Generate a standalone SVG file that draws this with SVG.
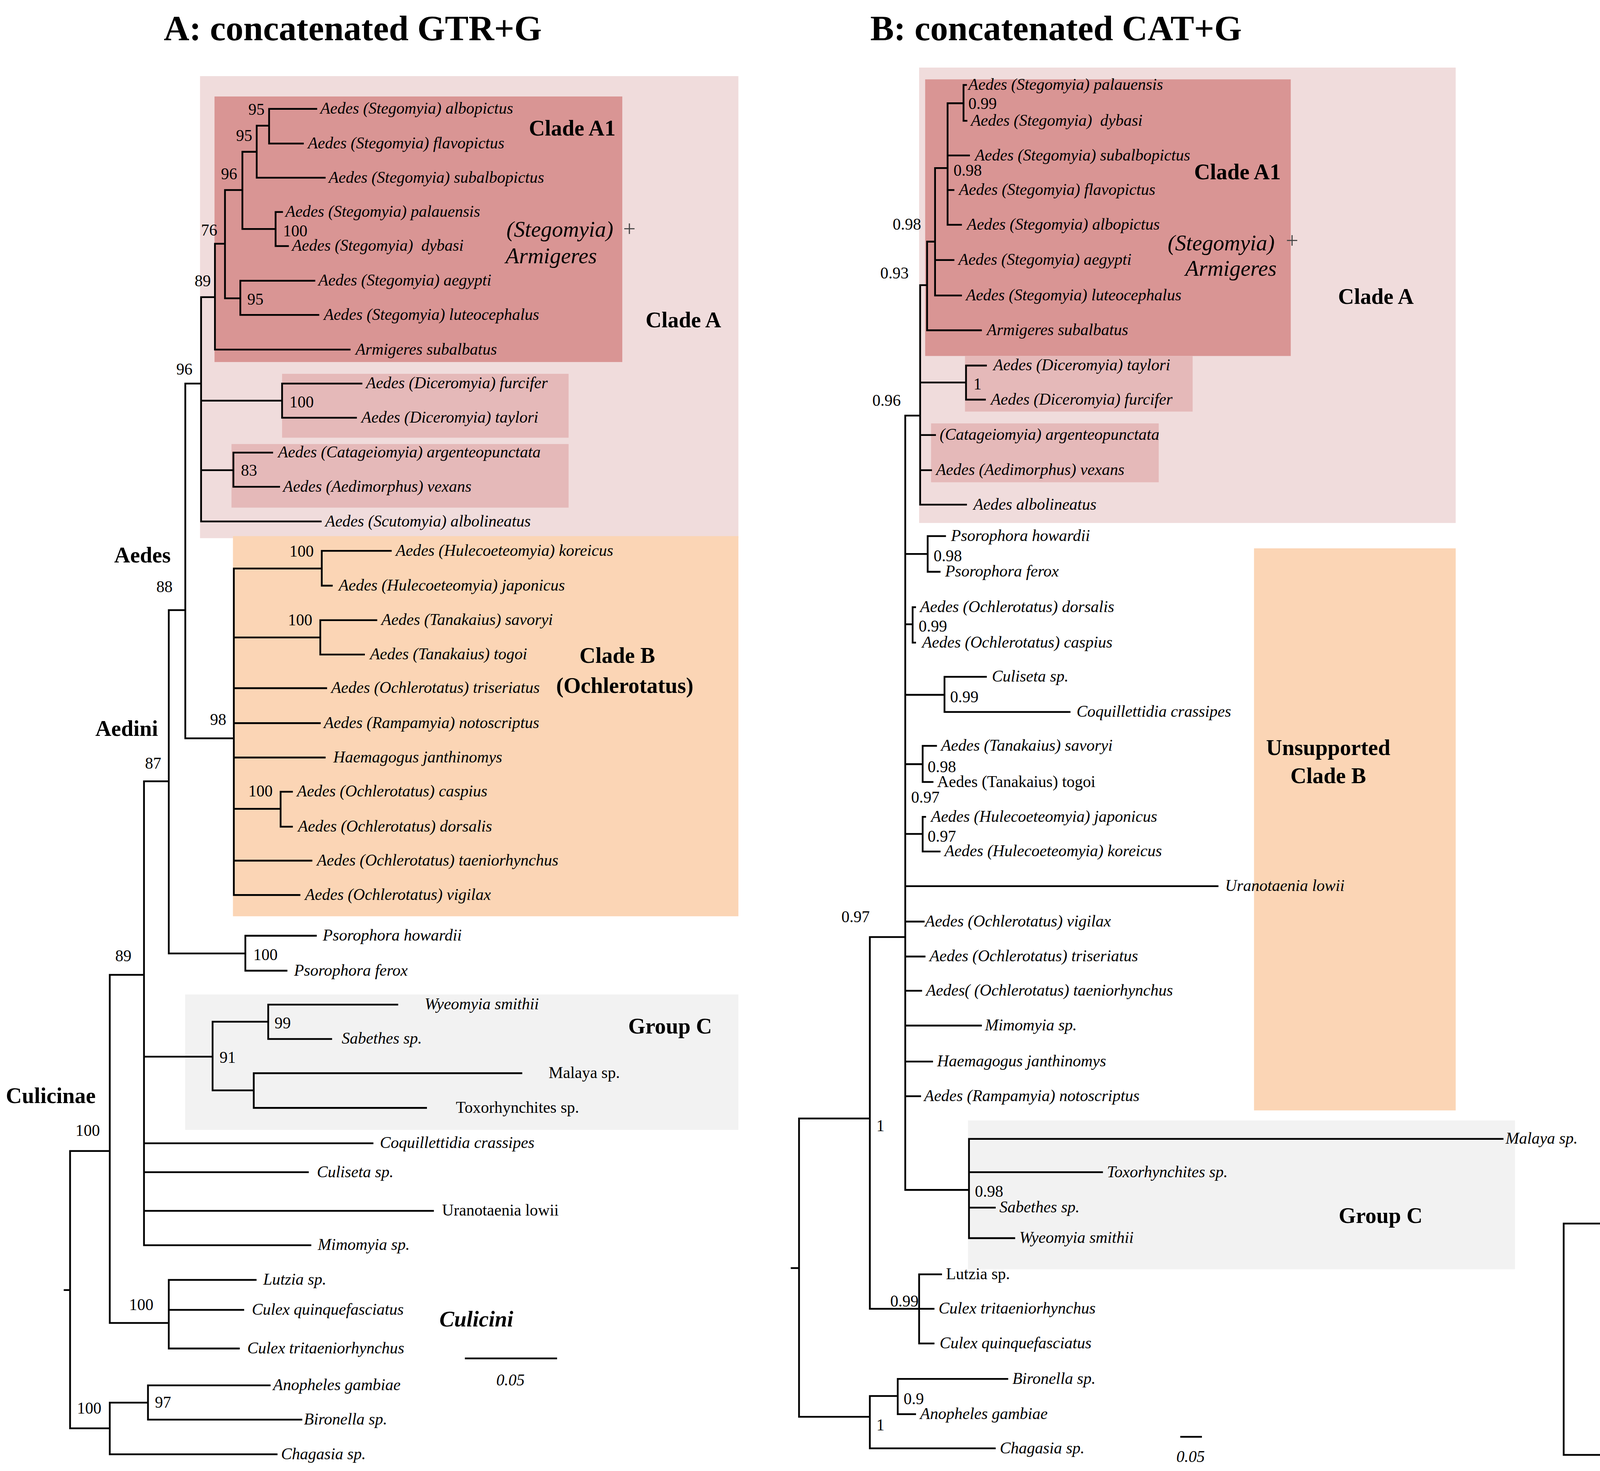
<svg xmlns="http://www.w3.org/2000/svg" width="5922" height="3766" viewBox="0 0 5922 3766">
<style>
text{font-family:'Liberation Serif','Times New Roman',serif;fill:#000}
.l{font-size:11px;font-style:italic}
.r{font-size:11px}
.s{font-size:11px}
.sc{font-size:10.5px}
.h{font-size:15px;font-weight:bold}
.ti{font-size:24px;font-weight:bold}
.ib{font-size:15px;font-style:italic}
.bi{font-size:15px;font-weight:bold;font-style:italic}
.pl{font-size:15px;fill:#444}
.br{stroke:#000;stroke-width:1.2;fill:none;stroke-linecap:square}
.ca{fill:#f0dcdc}.a1{fill:#d99594}.sb{fill:#e5b9b9}.cb{fill:#fbd5b5}.b1{fill:#f8c08f}.gc{fill:#f2f2f2}
</style>
<rect width="5922" height="3766" fill="#fff"/>
<g transform="scale(3.7768)">
<!-- ================= PANEL A ================= -->
<g id="panelA-boxes">
<rect class="ca" x="135.6" y="51.6" width="364.9" height="313.2"/>
<rect class="a1" x="145.4" y="65.4" width="276.4" height="180"/>
<rect class="sb" x="191.2" y="253.4" width="194.2" height="43.3"/>
<rect class="sb" x="156.9" y="301" width="228.5" height="43.1"/>
<rect class="cb" x="157.9" y="363.4" width="342.6" height="257.7"/>
<rect class="gc" x="125.5" y="674.1" width="375" height="91.8"/>
</g>
<g id="panelA-connectors">
<path class="br" d="M43.8 874.5H47.5M47.5 780.2V968.2M47.5 780.2H74.4M47.5 968.2H74.4
M74.4 660.8V896.8M74.4 660.8H97.6M74.4 896.8H114.4
M114.4 867.6V914.1M114.4 867.6H173.3M114.4 887.9H164.9M114.4 914.1H161.9
M74.4 950.8V985.8M74.4 950.8H100.3M100.3 939.1V962.3M100.3 939.1H182.8M100.3 962.3H204.3M74.4 985.8H187.5
M97.6 529.6V844.1M97.6 529.6H114.4M97.6 716.3H144.1M97.6 775H252.5M97.6 794.6H208.7M97.6 820.8H293.5M97.6 844.1H210.4
M144.1 692.6V739.1M144.1 692.6H181.8M181.8 681V704.3M181.8 681H269.3M181.8 704.3H224.5
M144.1 739.1H172M172 727.5V751M172 727.5H353.4M172 751H288.8
M114.4 413.6V646.3M114.4 413.6H125.6M114.4 646.3H166.3M166.3 634.3V658M166.3 634.3H214.1M166.3 658H194.2
M125.6 260V500.5M125.6 260H136.3M125.6 500.5H158.5
M158.5 385.4V606.7M158.5 385.4H218.1M218.1 373.4V397M218.1 373.4H264.9M218.1 397H224.9
M158.5 432.1H217.1M217.1 420.4V443.7M217.1 420.4H255.1M217.1 443.7H246.7
M158.5 466.5H221.1M158.5 490.2H216.8M158.5 513.5H220.1
M158.5 548.3H190.2M190.2 536.7V560.4M190.2 536.7H197.9M190.2 560.4H197.9
M158.5 583.4H211.1M158.5 606.7H203
M136.3 201.4V353.5M136.3 201.4H145.7
M136.3 271.6H191.2M191.2 260V283.2M191.2 260H245M191.2 283.2H241.3
M136.3 318.7H158.2M158.2 306.8V330M158.2 306.8H184.5M158.2 330H189.2
M136.3 353.5H217.4
M145.7 165.2V237M145.7 165.2H152.5M145.7 237H237
M152.5 128.8V202.2M152.5 128.8H164.3M152.5 202.2H162.9
M162.9 190.3V213.5M162.9 190.3H213.1M162.9 213.5H215.8
M164.3 102.9V155.2M164.3 102.9H174M164.3 155.2H186.8
M186.8 143.7V166.8M186.8 143.7H191.2M186.8 166.8H195.2
M174 85.2V120.5M174 85.2H182.4M174 120.5H220.1
M182.4 73.8V97.3M182.4 73.8H214.4M182.4 97.3H205.3
M315.7 920.8H377"/>
</g>
<g id="panelA-labels">
<text class="ti" x="111" y="27.3">A: concatenated GTR+G</text>
<g id="A-albopictus"><text class="l" x="217.1" y="77.1">Aedes (Stegomyia) albopictus</text></g>
<g id="A-flavopictus"><text class="l" x="208.7" y="100.6">Aedes (Stegomyia) flavopictus</text></g>
<g id="A-subalbopictus"><text class="l" x="222.8" y="123.8">Aedes (Stegomyia) subalbopictus</text></g>
<g id="A-palauensis"><text class="l" x="193.5" y="147">Aedes (Stegomyia) palauensis</text></g>
<g id="A-dybasi"><text class="l" x="197.9" y="170.1" xml:space="preserve">Aedes (Stegomyia)  dybasi</text></g>
<g id="A-aegypti"><text class="l" x="215.8" y="193.6">Aedes (Stegomyia) aegypti</text></g>
<g id="A-luteocephalus"><text class="l" x="219.5" y="216.8">Aedes (Stegomyia) luteocephalus</text></g>
<g id="A-armigeres"><text class="l" x="241" y="240.3">Armigeres subalbatus</text></g>
<g id="A-furcifer"><text class="l" x="248.1" y="263.3">Aedes (Diceromyia) furcifer</text></g>
<g id="A-taylori"><text class="l" x="245" y="286.5">Aedes (Diceromyia) taylori</text></g>
<g id="A-argenteopunctata"><text class="l" x="188.5" y="310.1">Aedes (Catageiomyia) argenteopunctata</text></g>
<g id="A-vexans"><text class="l" x="191.9" y="333.3">Aedes (Aedimorphus) vexans</text></g>
<g id="A-albolineatus"><text class="l" x="220.5" y="356.8">Aedes (Scutomyia) albolineatus</text></g>
<g id="A-koreicus"><text class="l" x="268.3" y="376.7">Aedes (Hulecoeteomyia) koreicus</text></g>
<g id="A-japonicus"><text class="l" x="229.6" y="400.3">Aedes (Hulecoeteomyia) japonicus</text></g>
<g id="A-savoryi"><text class="l" x="258.5" y="423.7">Aedes (Tanakaius) savoryi</text></g>
<g id="A-togoi"><text class="l" x="250.8" y="447">Aedes (Tanakaius) togoi</text></g>
<g id="A-triseriatus"><text class="l" x="224.5" y="469.8">Aedes (Ochlerotatus) triseriatus</text></g>
<g id="A-notoscriptus"><text class="l" x="219.5" y="493.5">Aedes (Rampamyia) notoscriptus</text></g>
<g id="A-haemagogus"><text class="l" x="225.9" y="516.8">Haemagogus janthinomys</text></g>
<g id="A-caspius"><text class="l" x="201.3" y="540">Aedes (Ochlerotatus) caspius</text></g>
<g id="A-dorsalis"><text class="l" x="202" y="563.7">Aedes (Ochlerotatus) dorsalis</text></g>
<g id="A-taeniorhynchus"><text class="l" x="214.8" y="586.7">Aedes (Ochlerotatus) taeniorhynchus</text></g>
<g id="A-vigilax"><text class="l" x="206.7" y="610">Aedes (Ochlerotatus) vigilax</text></g>
<g id="A-howardii"><text class="l" x="218.8" y="637.6">Psorophora howardii</text></g>
<g id="A-ferox"><text class="l" x="199.3" y="661.3">Psorophora ferox</text></g>
<g id="A-wyeomyia"><text class="l" x="287.8" y="684.3">Wyeomyia smithii</text></g>
<g id="A-sabethes"><text class="l" x="231.6" y="707.6">Sabethes sp.</text></g>
<g id="A-malaya"><text class="r" x="371.9" y="730.8">Malaya sp.</text></g>
<g id="A-toxorhynchites"><text class="r" x="309" y="754.3">Toxorhynchites sp.</text></g>
<g id="A-coquillettidia"><text class="l" x="257.5" y="778.3">Coquillettidia crassipes</text></g>
<g id="A-culiseta"><text class="l" x="214.8" y="797.9">Culiseta sp.</text></g>
<g id="A-uranotaenia"><text class="r" x="299.6" y="824.1">Uranotaenia lowii</text></g>
<g id="A-mimomyia"><text class="l" x="215.4" y="847.4">Mimomyia sp.</text></g>
<g id="A-lutzia"><text class="l" x="178.4" y="870.9">Lutzia sp.</text></g>
<g id="A-culexq"><text class="l" x="170.7" y="891.2">Culex quinquefasciatus</text></g>
<g id="A-culext"><text class="l" x="167.6" y="917.4">Culex tritaeniorhynchus</text></g>
<g id="A-anopheles"><text class="l" x="185.1" y="942.4">Anopheles gambiae</text></g>
<g id="A-bironella"><text class="l" x="206" y="965.6">Bironella sp.</text></g>
<g id="A-chagasia"><text class="l" x="190.5" y="989.1">Chagasia sp.</text></g>
<g id="A-groups">
<text class="h" x="358.5" y="91.9">Clade A1</text>
<text class="ib" x="343.3" y="160.5">(Stegomyia)</text>
<text class="pl" x="422.4" y="160.2">+</text>
<text class="ib" x="342.7" y="178.4">Armigeres</text>
<text class="h" x="437.6" y="221.8">Clade A</text>
<text class="h" x="77.4" y="381.3">Aedes</text>
<text class="h" x="392.8" y="449.2">Clade B</text>
<text class="h" x="377" y="469.8">(Ochlerotatus)</text>
<text class="h" x="64.6" y="498.8">Aedini</text>
<text class="h" x="425.8" y="700.5">Group C</text>
<text class="h" x="4" y="747.7">Culicinae</text>
<text class="bi" x="297.9" y="899.2">Culicini</text>
<text class="l" x="346" y="939.1" text-anchor="middle">0.05</text>
</g>
<g id="A-support">
<text class="s" x="168.3" y="77.8">95</text>
<text class="s" x="160" y="95.7">95</text>
<text class="s" x="149.8" y="121.6">96</text>
<text class="s" x="191.9" y="160.2">100</text>
<text class="s" x="136.3" y="159.7">76</text>
<text class="s" x="167.6" y="206.5">95</text>
<text class="s" x="131.9" y="194">89</text>
<text class="s" x="119.5" y="254">96</text>
<text class="s" x="196.2" y="276.2">100</text>
<text class="s" x="163.3" y="322.5">83</text>
<text class="s" x="196.2" y="377.2">100</text>
<text class="s" x="195.2" y="423.8">100</text>
<text class="s" x="142.4" y="491.4">98</text>
<text class="s" x="106" y="401.5">88</text>
<text class="s" x="98.3" y="521">87</text>
<text class="s" x="168.3" y="540">100</text>
<text class="s" x="171.7" y="650.9">100</text>
<text class="s" x="78.1" y="651.7">89</text>
<text class="s" x="186.1" y="697.2">99</text>
<text class="s" x="148.8" y="720.4">91</text>
<text class="s" x="51.2" y="769.9">100</text>
<text class="s" x="87.5" y="888">100</text>
<text class="s" x="105" y="954.3">97</text>
<text class="s" x="52.2" y="958.3">100</text>
</g>
</g>
<!-- ================= PANEL B ================= -->
<g id="panelB-boxes">
<rect class="ca" x="623" y="45.8" width="363.7" height="308.7"/>
<rect class="a1" x="627.1" y="53.8" width="247.8" height="187.5"/>
<rect class="sb" x="654.1" y="241.3" width="154.3" height="37.7"/>
<rect class="sb" x="631.1" y="287" width="154.3" height="39.9"/>
<rect class="cb" x="850" y="371.7" width="136.7" height="381"/>
<rect class="gc" x="656.1" y="759.5" width="370.8" height="100.9"/>
</g>
<g id="panelB-connectors">
<path class="br" d="M536.6 859.6H541.6M541.6 758.2V960.4M541.6 758.2H589.6M541.6 960.4H589.6
M589.6 635.2V887.2M589.6 635.2H613.6M589.6 887.2H623
M623 863.8V910.7M623 863.8H637.9M623 887.2H632.8M623 910.7H632.8
M589.6 946.3V981.8M589.6 946.3H608.5M608.5 934.7V958.6M608.5 934.7H682.8M608.5 958.6H620.3M589.6 981.8H674.3
M613.6 281.7V806.6M613.6 281.7H623.7
M613.6 375.5H628.8M628.8 363.4V387.6M628.8 363.4H640.6M628.8 387.6H636.9
M613.6 423.2H618.6M618.6 411.6V435.6M618.6 411.6H620.3M618.6 435.6H620.3
M613.6 471H640.2M640.2 458.8V482.6M640.2 458.8H668.3M640.2 482.6H725
M613.6 518H625.4M625.4 505.6V530.1M625.4 505.6H634.5M625.4 530.1H632.1
M613.6 565.3H625.4M625.4 553.7V577.2M625.4 553.7H627.1M625.4 577.2H636.9
M613.6 600.7H825.3M613.6 624.7H626.1M613.6 648.4H626.7M613.6 671.6H624.4M613.6 695.2H664.9M613.6 719.6H631.8M613.6 743.1H623.7
M613.6 806.6H656.8M656.8 772V839.3M656.8 772H1018.5M656.8 794.6H747M656.8 818.6H674.3M656.8 839.3H687.5
M623.7 193.3V342.1M623.7 193.3H628.4
M623.7 259.3H654.8M654.8 247.8V270.9M654.8 247.8H668.3M654.8 270.9H667.6
M623.7 294.9H633.8M623.7 318.7H631.1M623.7 342.1H654.8
M628.4 163.8V223.9M628.4 163.8H633.8M628.4 223.9H664.9
M633.8 113.9V200.3M633.8 113.9H642.3M633.8 176.3H646.3M633.8 200.3H651.4
M642.3 70V152.4M642.3 70H653.1M642.3 105.4H656.8M642.3 128.8H646.3M642.3 152.4H651.4
M653.1 57.6V81.9M653.1 57.6H654.8M653.1 81.9H655.1
M800.6 974H814.1"/>
</g>
<g id="panelB-labels">
<text class="ti" x="589.9" y="27.3">B: concatenated CAT+G</text>
<g id="B-palauensis"><text class="l" x="656.4" y="60.9">Aedes (Stegomyia) palauensis</text></g>
<g id="B-dybasi"><text class="l" x="658.1" y="85.2" xml:space="preserve">Aedes (Stegomyia)  dybasi</text></g>
<g id="B-subalbopictus"><text class="l" x="660.8" y="108.7">Aedes (Stegomyia) subalbopictus</text></g>
<g id="B-flavopictus"><text class="l" x="650" y="132.1">Aedes (Stegomyia) flavopictus</text></g>
<g id="B-albopictus"><text class="l" x="655.4" y="155.7">Aedes (Stegomyia) albopictus</text></g>
<g id="B-aegypti"><text class="l" x="649.7" y="179.6">Aedes (Stegomyia) aegypti</text></g>
<g id="B-luteocephalus"><text class="l" x="654.8" y="203.6">Aedes (Stegomyia) luteocephalus</text></g>
<g id="B-armigeres"><text class="l" x="668.9" y="227.2">Armigeres subalbatus</text></g>
<g id="B-taylori"><text class="l" x="673.3" y="251.1">Aedes (Diceromyia) taylori</text></g>
<g id="B-furcifer"><text class="l" x="671.6" y="274.2">Aedes (Diceromyia) furcifer</text></g>
<g id="B-argenteopunctata"><text class="l" x="636.9" y="298.2">(Catageiomyia) argenteopunctata</text></g>
<g id="B-vexans"><text class="l" x="634.5" y="322">Aedes (Aedimorphus) vexans</text></g>
<g id="B-albolineatus"><text class="l" x="659.8" y="345.4">Aedes albolineatus</text></g>
<g id="B-howardii"><text class="l" x="644.6" y="366.7">Psorophora howardii</text></g>
<g id="B-ferox"><text class="l" x="640.6" y="390.9">Psorophora ferox</text></g>
<g id="B-dorsalis"><text class="l" x="623.7" y="414.9">Aedes (Ochlerotatus) dorsalis</text></g>
<g id="B-caspius"><text class="l" x="625" y="438.9">Aedes (Ochlerotatus) caspius</text></g>
<g id="B-culiseta"><text class="l" x="672.3" y="462.1">Culiseta sp.</text></g>
<g id="B-coquillettidia"><text class="l" x="729.7" y="485.9">Coquillettidia crassipes</text></g>
<g id="B-savoryi"><text class="l" x="637.9" y="508.9">Aedes (Tanakaius) savoryi</text></g>
<g id="B-togoi"><text class="r" x="635.2" y="533.4">Aedes (Tanakaius) togoi</text></g>
<g id="B-japonicus"><text class="l" x="631.1" y="557">Aedes (Hulecoeteomyia) japonicus</text></g>
<g id="B-koreicus"><text class="l" x="640.2" y="580.5">Aedes (Hulecoeteomyia) koreicus</text></g>
<g id="B-uranotaenia"><text class="l" x="830.4" y="604">Uranotaenia lowii</text></g>
<g id="B-vigilax"><text class="l" x="627" y="628">Aedes (Ochlerotatus) vigilax</text></g>
<g id="B-triseriatus"><text class="l" x="630.1" y="651.7">Aedes (Ochlerotatus) triseriatus</text></g>
<g id="B-taeniorhynchus"><text class="l" x="627.7" y="674.9">Aedes( (Ochlerotatus) taeniorhynchus</text></g>
<g id="B-mimomyia"><text class="l" x="667.6" y="698.5">Mimomyia sp.</text></g>
<g id="B-haemagogus"><text class="l" x="635.2" y="722.9">Haemagogus janthinomys</text></g>
<g id="B-notoscriptus"><text class="l" x="626.4" y="746.4">Aedes (Rampamyia) notoscriptus</text></g>
<g id="B-malaya"><text class="l" x="1020.5" y="775.3">Malaya sp.</text></g>
<g id="B-toxorhynchites"><text class="l" x="750.3" y="797.9">Toxorhynchites sp.</text></g>
<g id="B-sabethes"><text class="l" x="677.4" y="821.9">Sabethes sp.</text></g>
<g id="B-wyeomyia"><text class="l" x="690.9" y="842.6">Wyeomyia smithii</text></g>
<g id="B-lutzia"><text class="r" x="641.2" y="867.1">Lutzia sp.</text></g>
<g id="B-culext"><text class="l" x="636.2" y="890.5">Culex tritaeniorhynchus</text></g>
<g id="B-culexq"><text class="l" x="636.9" y="914">Culex quinquefasciatus</text></g>
<g id="B-bironella"><text class="l" x="686.2" y="938">Bironella sp.</text></g>
<g id="B-anopheles"><text class="l" x="623.7" y="961.9">Anopheles gambiae</text></g>
<g id="B-chagasia"><text class="l" x="677.7" y="985.1">Chagasia sp.</text></g>
<g id="B-groups">
<text class="h" x="809.4" y="121.6">Clade A1</text>
<text class="ib" x="791.5" y="169.6">(Stegomyia)</text>
<text class="pl" x="871.6" y="168.1">+</text>
<text class="ib" x="803.4" y="187">Armigeres</text>
<text class="h" x="907" y="206">Clade A</text>
<text class="h" x="900.3" y="511.9" text-anchor="middle">Unsupported</text>
<text class="h" x="900.3" y="530.9" text-anchor="middle">Clade B</text>
<text class="h" x="907.4" y="829">Group C</text>
<text class="l" x="807" y="991" text-anchor="middle">0.05</text>
</g>
<g id="B-support">
<text class="s" x="656.4" y="74">0.99</text>
<text class="s" x="646.3" y="119.2">0.98</text>
<text class="s" x="605.1" y="155.6">0.98</text>
<text class="s" x="596.7" y="188.7">0.93</text>
<text class="s" x="659.8" y="264.1">1</text>
<text class="s" x="591.3" y="275">0.96</text>
<text class="s" x="632.8" y="380.5">0.98</text>
<text class="s" x="622.7" y="428.1">0.99</text>
<text class="s" x="644" y="476">0.99</text>
<text class="s" x="628.8" y="523.5">0.98</text>
<text class="s" x="617.6" y="544.1">0.97</text>
<text class="s" x="628.8" y="570.6">0.97</text>
<text class="s" x="570.3" y="625.2">0.97</text>
<text class="s" x="594" y="766.7">1</text>
<text class="s" x="660.8" y="811.4">0.98</text>
<text class="s" x="603.4" y="885.6">0.99</text>
<text class="s" x="612.5" y="951.9">0.9</text>
<text class="s" x="594" y="969.5">1</text>
</g>
</g>
<!-- ================= PANEL C ================= -->
<g id="panelC-boxes">
<rect class="ca" x="1163" y="50.1" width="397" height="282.7"/>
<rect class="cb" x="1161.6" y="332.8" width="398.4" height="579.2"/>
<rect class="b1" x="1186.6" y="344.6" width="358.1" height="212.3"/>
<rect class="b1" x="1212.9" y="699.7" width="319.9" height="81"/>
<rect class="a1" x="1209.1" y="202.4" width="323.7" height="96.2"/>
<rect class="sb" x="1241.9" y="51.6" width="196.3" height="17.9"/>
<rect class="sb" x="1239.5" y="122.5" width="189.8" height="15.9"/>
<rect class="sb" x="1247.7" y="149.1" width="200.7" height="24.7"/>
</g>
<g id="panelC-connectors">
<path class="br" d="M1059.9 829.4V986.2M1059.9 829.4H1116.2M1059.9 986.2H1363.8
M1116.2 625.6V961.2M1116.2 625.6H1161.6M1116.2 961.2H1204
M1204 937.2V973.1M1204 937.2H1223.1M1223.1 927.2V946.8M1223.1 927.2H1234.7M1234.7 920.8V934M1234.7 920.8H1259.6M1234.7 934H1260.7M1223.1 946.8H1249.4M1204 960.2H1256.9M1204 973.1H1249.4
M1161.6 263.5V737.4M1161.6 263.5H1184.5M1161.6 737.4H1179.7
M1184.5 211.5V315.9M1184.5 211.5H1190.7M1184.5 315.9H1215.3
M1215.3 306V325.9M1215.3 306H1245M1245 299.2V312.6M1245 299.2H1294.5M1245 312.6H1296.5M1215.3 325.9H1279.1
M1190.7 91V268.8M1190.7 91H1222.8M1222.8 80.1V102.9M1222.8 80.1H1236.1M1236.1 63.2V89.7M1236.1 63.2H1257.9M1236.1 76.5H1266.8M1236.1 89.7H1257.2M1222.8 102.9H1242.6
M1190.7 114.5H1280.1M1190.7 128.8H1259.6M1190.7 141.7H1232.3
M1190.7 170H1209.4M1209.4 161.7V181.6M1209.4 161.7H1256.2M1256.2 155.1V168.3M1256.2 155.1H1293.8M1256.2 168.3H1294.8M1209.4 181.6H1293.8
M1190.7 194.5H1239.8M1190.7 268.8H1209.1
M1209.1 251.6V286.6M1209.1 251.6H1218.7M1209.1 286.6H1269.9
M1218.7 235V266.8M1218.7 235H1268.9M1218.7 266.8H1248.4
M1231.6 214.3V247.1M1231.6 214.3H1250.4M1250.4 207.7V220.9M1250.4 207.7H1284.2M1250.4 220.9H1269.2M1231.6 247.1H1262.4
M1248.4 260.5V273.4M1248.4 260.5H1258.6M1248.4 273.4H1258
M1179.7 493V905.3M1179.7 493H1214.2
M1214.2 456.1V530.9M1214.2 456.1H1224.8M1214.2 530.9H1233.3
M1224.8 392.9V491.4M1224.8 392.9H1242.6M1224.8 449.2H1245.3M1224.8 491.4H1241.9
M1242.6 371.7V413.2M1242.6 371.7H1259M1242.6 413.2H1253.5
M1259 357V386.8M1259 357H1270.6M1259 386.8H1266.5
M1270.6 346.5V366.9M1270.6 346.5H1277M1270.6 366.9H1281.8
M1277 340.4V353.2M1277 340.4H1285.2M1277 353.2H1279.1
M1266.5 380.1V393.4M1266.5 380.1H1273.3M1266.5 393.4H1283.5
M1253.5 406.1V419.4M1253.5 406.1H1274M1253.5 419.4H1276
M1245.3 439.2V459.1M1245.3 439.2H1266.5M1266.5 432.6V445.9M1266.5 432.6H1274M1266.5 445.9H1273.3M1245.3 459.1H1263
M1241.9 478.6V504.4M1241.9 478.6H1246M1246 472.3V485.2M1246 472.3H1275M1246 485.2H1256.9M1241.9 504.4H1255.2M1255.2 498.8V511M1255.2 498.8H1257.9M1255.2 511H1258.6
M1233.3 524.3V537.5M1233.3 524.3H1242.6M1233.3 537.5H1242.6
M1179.7 551.6H1245.3M1179.7 565.7H1265.8
M1179.7 581.4H1330.3M1330.3 576.9V590.1M1330.3 576.9H1358.6M1330.3 590.1H1348.4
M1179.7 609.8H1261.3M1261.3 603.1V616.3M1261.3 603.1H1302.3M1261.3 616.3H1289.7
M1179.7 635.7H1224.5M1224.5 629.4V642.6M1224.5 629.4H1275.7M1224.5 642.6H1268.2
M1179.7 658.8H1276
M1179.7 675.9H1249.7M1249.7 668.8V682M1249.7 668.8H1262M1249.7 682H1264.8
M1179.7 695.1H1284.2
M1179.7 758.7H1213.5M1213.5 739.1V774.2M1213.5 739.1H1230.6M1213.5 774.2H1248.7
M1230.6 724.2V753.9M1230.6 724.2H1245.3M1230.6 753.9H1254.5
M1245.3 714.3V734.1M1245.3 714.3H1255.2M1245.3 734.1H1261.3
M1255.2 708V721.2M1255.2 708H1269.2M1255.2 721.2H1269.2
M1254.5 747.7V760.8M1254.5 747.7H1270.6M1254.5 760.8H1264.8
M1179.7 803.4H1245.3M1245.3 793.5V813M1245.3 793.5H1263.4M1263.4 787.1V800.7M1263.4 787.1H1283.5M1263.4 800.7H1270.6M1245.3 813H1269.9
M1179.7 833.3H1246.3M1246.3 826.6V839.3M1246.3 826.6H1269.9M1246.3 839.3H1285.2
M1179.7 852.9H1270.6M1179.7 865.7H1231.3
M1179.7 885.3H1198.5M1198.5 878.9V892.3M1198.5 878.9H1244.9M1198.5 892.3H1225.5
M1179.7 905.3H1273.3
M1388.3 939.9H1449.1"/>
</g>
<g id="panelC-labels">
<text class="ti" x="1165.1" y="27.3">C: Soghigian GTR+G</text>
<g id="C-vexans"><text class="l" x="1259.6" y="66.5">Aedes (Aedimorphus) vexans</text></g>
<g id="C-hirsutus"><text class="l" x="1267.5" y="79.8">Aedes (Aedimorphus) hirsutus</text></g>
<g id="C-fowleri"><text class="l" x="1258.9" y="93">Aedes (Aedimorphus) fowleri</text></g>
<g id="C-cumminsii"><text class="l" x="1245.3" y="106.2">Aedes (Aedimorphus) cumminsii</text></g>
<g id="C-cinereus"><text class="l" x="1281.8" y="117.8">Aedes (Aedes) cinereus</text></g>
<g id="C-argenteopunctatus"><text class="l" x="1261.3" y="132.1">Aedes (Catageiomyia) argenteopunctatus</text></g>
<g id="C-dalzieli"><text class="l" x="1236.8" y="145">Aedes (Aedimorphus) dalzieli</text></g>
<g id="C-taylori"><text class="l" x="1293.8" y="158.4">Aedes (Diceromyia) taylori</text></g>
<g id="C-furcifer"><text class="l" x="1294.8" y="171.6">Aedes (Diceromyia) furcifer</text></g>
<g id="C-cozi"><text class="l" x="1294.8" y="184.9">Aedes (Cornetius) cozi</text></g>
<g id="C-vittatus"><text class="l" x="1239.8" y="197.8">Aedes (Fredwardsius) vittatus</text></g>
<g id="C-africanus"><text class="l" x="1284.6" y="211">Aedes (Stegomyia) africanus</text></g>
<g id="C-luteocephalus"><text class="l" x="1269.9" y="224.2">Aedes (Stegomyia) luteocephalus</text></g>
<g id="C-metallicus"><text class="l" x="1271.6" y="238.3">Aedes (Stegomyia) metallicus</text></g>
<g id="C-bromeliae"><text class="l" x="1263.7" y="250.4">Aedes (Stegomyia) bromeliae</text></g>
<g id="C-mascarensis"><text class="l" x="1260.7" y="263.8">Aedes (Stegomyia) mascarensis</text></g>
<g id="C-aegypti"><text class="l" x="1259.6" y="276.7">Aedes (Stegomyia) aegypti</text></g>
<g id="C-albopictus"><text class="l" x="1270.6" y="289.9">Aedes (Stegomyia) albopictus</text></g>
<g id="C-malayi"><text class="l" x="1298.9" y="302.5">Armigeres malayi</text></g>
<g id="C-subalbatus"><text class="l" x="1299.9" y="315.9">Armigeres subalbatus</text></g>
<g id="C-eretmapodites"><text class="l" x="1284.2" y="329.2">Eretmapodites quinquevittatus</text></g>
<g id="C-punctor"><text class="l" x="1285.9" y="343.7">Aedes (Ochlerotatus) punctor</text></g>
<g id="C-absserratus"><text class="l" x="1279.1" y="356.5">Aedes (Ochlerotatus) absserratus</text></g>
<g id="C-implicatus"><text class="l" x="1282.5" y="370.2">Aedes (Ochlerotatus) implicatus</text></g>
<g id="C-communis"><text class="l" x="1274" y="383.4">Aedes (Ochlerotatus) communis</text></g>
<g id="C-churchillensis"><text class="l" x="1286.3" y="396.7">Aedes (Ochlerotatus) churchillensis</text></g>
<g id="C-detritus"><text class="l" x="1274" y="409.4">Aedes (Ochlerotatus) detritus</text></g>
<g id="C-cantator"><text class="l" x="1277" y="422.7">Aedes (Ochlerotatus) cantator</text></g>
<g id="C-excrucians"><text class="l" x="1274" y="435.9">Aedes (Ochlerotatus) excrucians</text></g>
<g id="C-stimulans"><text class="l" x="1273.3" y="449.2">Aedes (Ochlerotatus) stimulans</text></g>
<g id="C-fitchii"><text class="l" x="1263" y="462.4">Aedes (Ochlerotatus) fitchii</text></g>
<g id="C-thibaulti"><text class="l" x="1275" y="475.6">Aedes (Ochlerotatus) thibaulti</text></g>
<g id="C-aurifer"><text class="l" x="1256.9" y="488.5">Aedes (Ochlerotatus) aurifer</text></g>
<g id="C-diantaeus"><text class="l" x="1257.9" y="502.1">Aedes (Ochlerotatus) diantaeus</text></g>
<g id="C-intrudens"><text class="l" x="1258.6" y="514.3">Aedes (Ochlerotatus) intrudens</text></g>
<g id="C-dorsalis"><text class="l" x="1241.9" y="527.6">Aedes (Ochlerotatus) dorsalis</text></g>
<g id="C-caspius"><text class="l" x="1240.2" y="540.8">Aedes (Ochlerotatus) caspius</text></g>
<g id="C-camptorhynchus"><text class="l" x="1248.7" y="554.9">Aedes (Ochlerotatus) camptorhynchus</text></g>
<g id="C-sierrensis"><text class="l" x="1270.6" y="569">Aedes (Jarnellius) sierrensis</text></g>
<g id="C-epactius"><text class="l" x="1358.6" y="580.2">Aedes (Georgecraigius) epactius</text></g>
<g id="C-atropalpus"><text class="l" x="1349.4" y="593.4">Aedes (Georgecraigius) atropalpus</text></g>
<g id="C-koreicus"><text class="l" x="1303" y="606.4">Aedes (Hulecoeteomyia) koreicus</text></g>
<g id="C-japonicus"><text class="l" x="1290.4" y="619.6">Aedes (Hulecoeteomyia) japonicus</text></g>
<g id="C-alboannulatus"><text class="l" x="1278.4" y="632.7">Aedes (Dobrotworskyius) alboannulatus</text></g>
<g id="C-notoscriptus"><text class="l" x="1268.2" y="645.9">Aedes (Rampamyia) notoscriptus</text></g>
<g id="C-geniculatus"><text class="l" x="1271.6" y="662.1">Aedes (Dahliana) geniculatus</text></g>
<g id="C-triseriatus"><text class="l" x="1264.8" y="672.1">Aedes (Ochlerotatus) triseriatus</text></g>
<g id="C-brelandi"><text class="l" x="1264.8" y="685.3">Aedes (Ochlerotatus) brelandi</text></g>
<g id="C-mucidus"><text class="l" x="1284.6" y="698.4">Aedes Mucidus sudanensis</text></g>
<g id="C-atlanticus"><text class="l" x="1268.9" y="711.3">Aedes (Ochlerotatus) atlanticus</text></g>
<g id="C-pertinax"><text class="l" x="1268.9" y="724.5">Aedes (Ochlerotatus) pertinax</text></g>
<g id="C-dupreei"><text class="l" x="1262" y="737.4">Aedes (Ochlerotatus) dupreei</text></g>
<g id="C-trivittatus"><text class="l" x="1270.9" y="751">Aedes (Ochlerotatus) trivittatus</text></g>
<g id="C-infirmatus"><text class="l" x="1264.1" y="764.1">Aedes (Ochlerotatus) infirmatus</text></g>
<g id="C-sticticus"><text class="l" x="1249.4" y="777.5">Aedes (Ochlerotatus) sticticus</text></g>
<g id="C-mitchellae"><text class="l" x="1283.5" y="790.4">Aedes (Ochlerotatus) mitchellae</text></g>
<g id="C-sollicitans"><text class="l" x="1270.9" y="804">Aedes (Ochlerotatus) sollicitans</text></g>
<g id="C-taeniorhynchus"><text class="l" x="1254.5" y="816.3">Aedes Aedes( (Ochlerotatus) taeniorhynchus</text></g>
<g id="C-janthinomys"><text class="l" x="1270.6" y="829.9">Haemagogus janthinomys</text></g>
<g id="C-leucocelaenus"><text class="l" x="1285.9" y="842.6">Haemagogus leucocelaenus</text></g>
<g id="C-bancroftianus"><text class="l" x="1270.6" y="856.2">Aedes (Ochlerotatus) bancroftianus</text></g>
<g id="C-sagax"><text class="l" x="1231.6" y="869">Aedes (Ochlerotatus) sagax</text></g>
<g id="C-vigilax"><text class="l" x="1244.9" y="882.2">Aedes (Ochlerotatus) vigilax</text></g>
<g id="C-theobaldi"><text class="l" x="1225.5" y="895.6">Aedes (Ochlerotatus) theobaldi</text></g>
<g id="C-fuscus"><text class="l" x="1274.3" y="908.6">Op. fuscus</text></g>
<g id="C-ferox"><text class="l" x="1261.3" y="924.1">Psorophora ferox</text></g>
<g id="C-cyanescens"><text class="l" x="1260.7" y="937.3">Psorophora cyanescens</text></g>
<g id="C-horrida"><text class="l" x="1249.4" y="950.1">Psorophora horrida</text></g>
<g id="C-columbiae"><text class="l" x="1256.9" y="963.5">Psorophora columbiae</text></g>
<g id="C-ciliata"><text class="l" x="1249.4" y="976.4">Psorophora ciliata</text></g>
<g id="C-culex"><text class="l" x="1369.9" y="989.5">Culex quinquefasciatus</text></g>
<g id="C-groups">
<text class="h" x="1498.6" y="72.8">Clade A</text>
<text class="h" x="1445.7" y="254">(Stegomyia)</text>
<text class="h" x="1435.5" y="318.4" style="font-size:17px">Armigeres</text>
<text class="h" x="1462.8" y="453.3">Clade B1</text>
<text class="h" x="1099.9" y="592.1" style="font-size:11px">Aedes</text>
<text class="h" x="1460.4" y="732.8">Clade B2</text>
<text class="h" x="1473.7" y="868.9">Clade B</text>
<text class="h" x="1428.6" y="893.6">(Ochlerotatus)</text>
<text class="l" x="1411" y="949.5" text-anchor="middle">0.05</text>
</g>
<g id="C-support">
<text class="sc" x="1221.1" y="72.3">95</text>
<text class="sc" x="1208.4" y="83.6">89</text>
<text class="sc" x="1257.2" y="166.3">100</text>
<text class="sc" x="1192.4" y="162.7">78</text>
<text class="sc" x="1170.9" y="199.4">75</text>
<text class="sc" x="1158.9" y="250.7">100</text>
<text class="sc" x="1194.8" y="261.3">98</text>
<text class="sc" x="1251.1" y="219.3">100</text>
<text class="sc" x="1212.5" y="230">100</text>
<text class="sc" x="1205" y="244.1">80</text>
<text class="sc" x="1227.2" y="260.2">100</text>
<text class="sc" x="1246" y="311">100</text>
<text class="sc" x="1201.6" y="308.5">98</text>
<text class="sc" x="1277.4" y="351.8">74</text>
<text class="sc" x="1249.7" y="349.9">100</text>
<text class="sc" x="1237.4" y="363.4">100</text>
<text class="sc" x="1267.2" y="391.2">50</text>
<text class="sc" x="1224.5" y="384.6">95</text>
<text class="sc" x="1254.5" y="417.7">99</text>
<text class="sc" x="1266.8" y="444.2">100</text>
<text class="sc" x="1246" y="454.1">97</text>
<text class="sc" x="1204" y="448.3">100</text>
<text class="sc" x="1232.3" y="472.7">87</text>
<text class="sc" x="1194.4" y="486.4">84</text>
<text class="sc" x="1220.4" y="500.8">100</text>
<text class="sc" x="1233.3" y="514.4">100</text>
<text class="sc" x="1212.9" y="542.2">100</text>
<text class="sc" x="1331.3" y="588.8">100</text>
<text class="sc" x="1262" y="615.3">100</text>
<text class="sc" x="1124.1" y="613.7">100</text>
<text class="sc" x="1250.4" y="679.9">100</text>
<text class="sc" x="1224.5" y="716.3">100</text>
<text class="sc" x="1256.2" y="720.4">94</text>
<text class="sc" x="1209.4" y="731.2">100</text>
<text class="sc" x="1161.6" y="749">98</text>
<text class="sc" x="1197.2" y="751">89</text>
<text class="sc" x="1255.5" y="759.5">100</text>
<text class="sc" x="1264.1" y="799.1">100</text>
<text class="sc" x="1246.7" y="809">100</text>
<text class="sc" x="1247" y="838.2">100</text>
<text class="sc" x="1199.2" y="890.4">83</text>
<text class="sc" x="1086.5" y="821.8">100</text>
<text class="sc" x="1237.4" y="932">94</text>
<text class="sc" x="1226.5" y="940.7">81</text>
<text class="sc" x="1183.8" y="959.9">100</text>
</g>
</g>
</g>
</svg>
